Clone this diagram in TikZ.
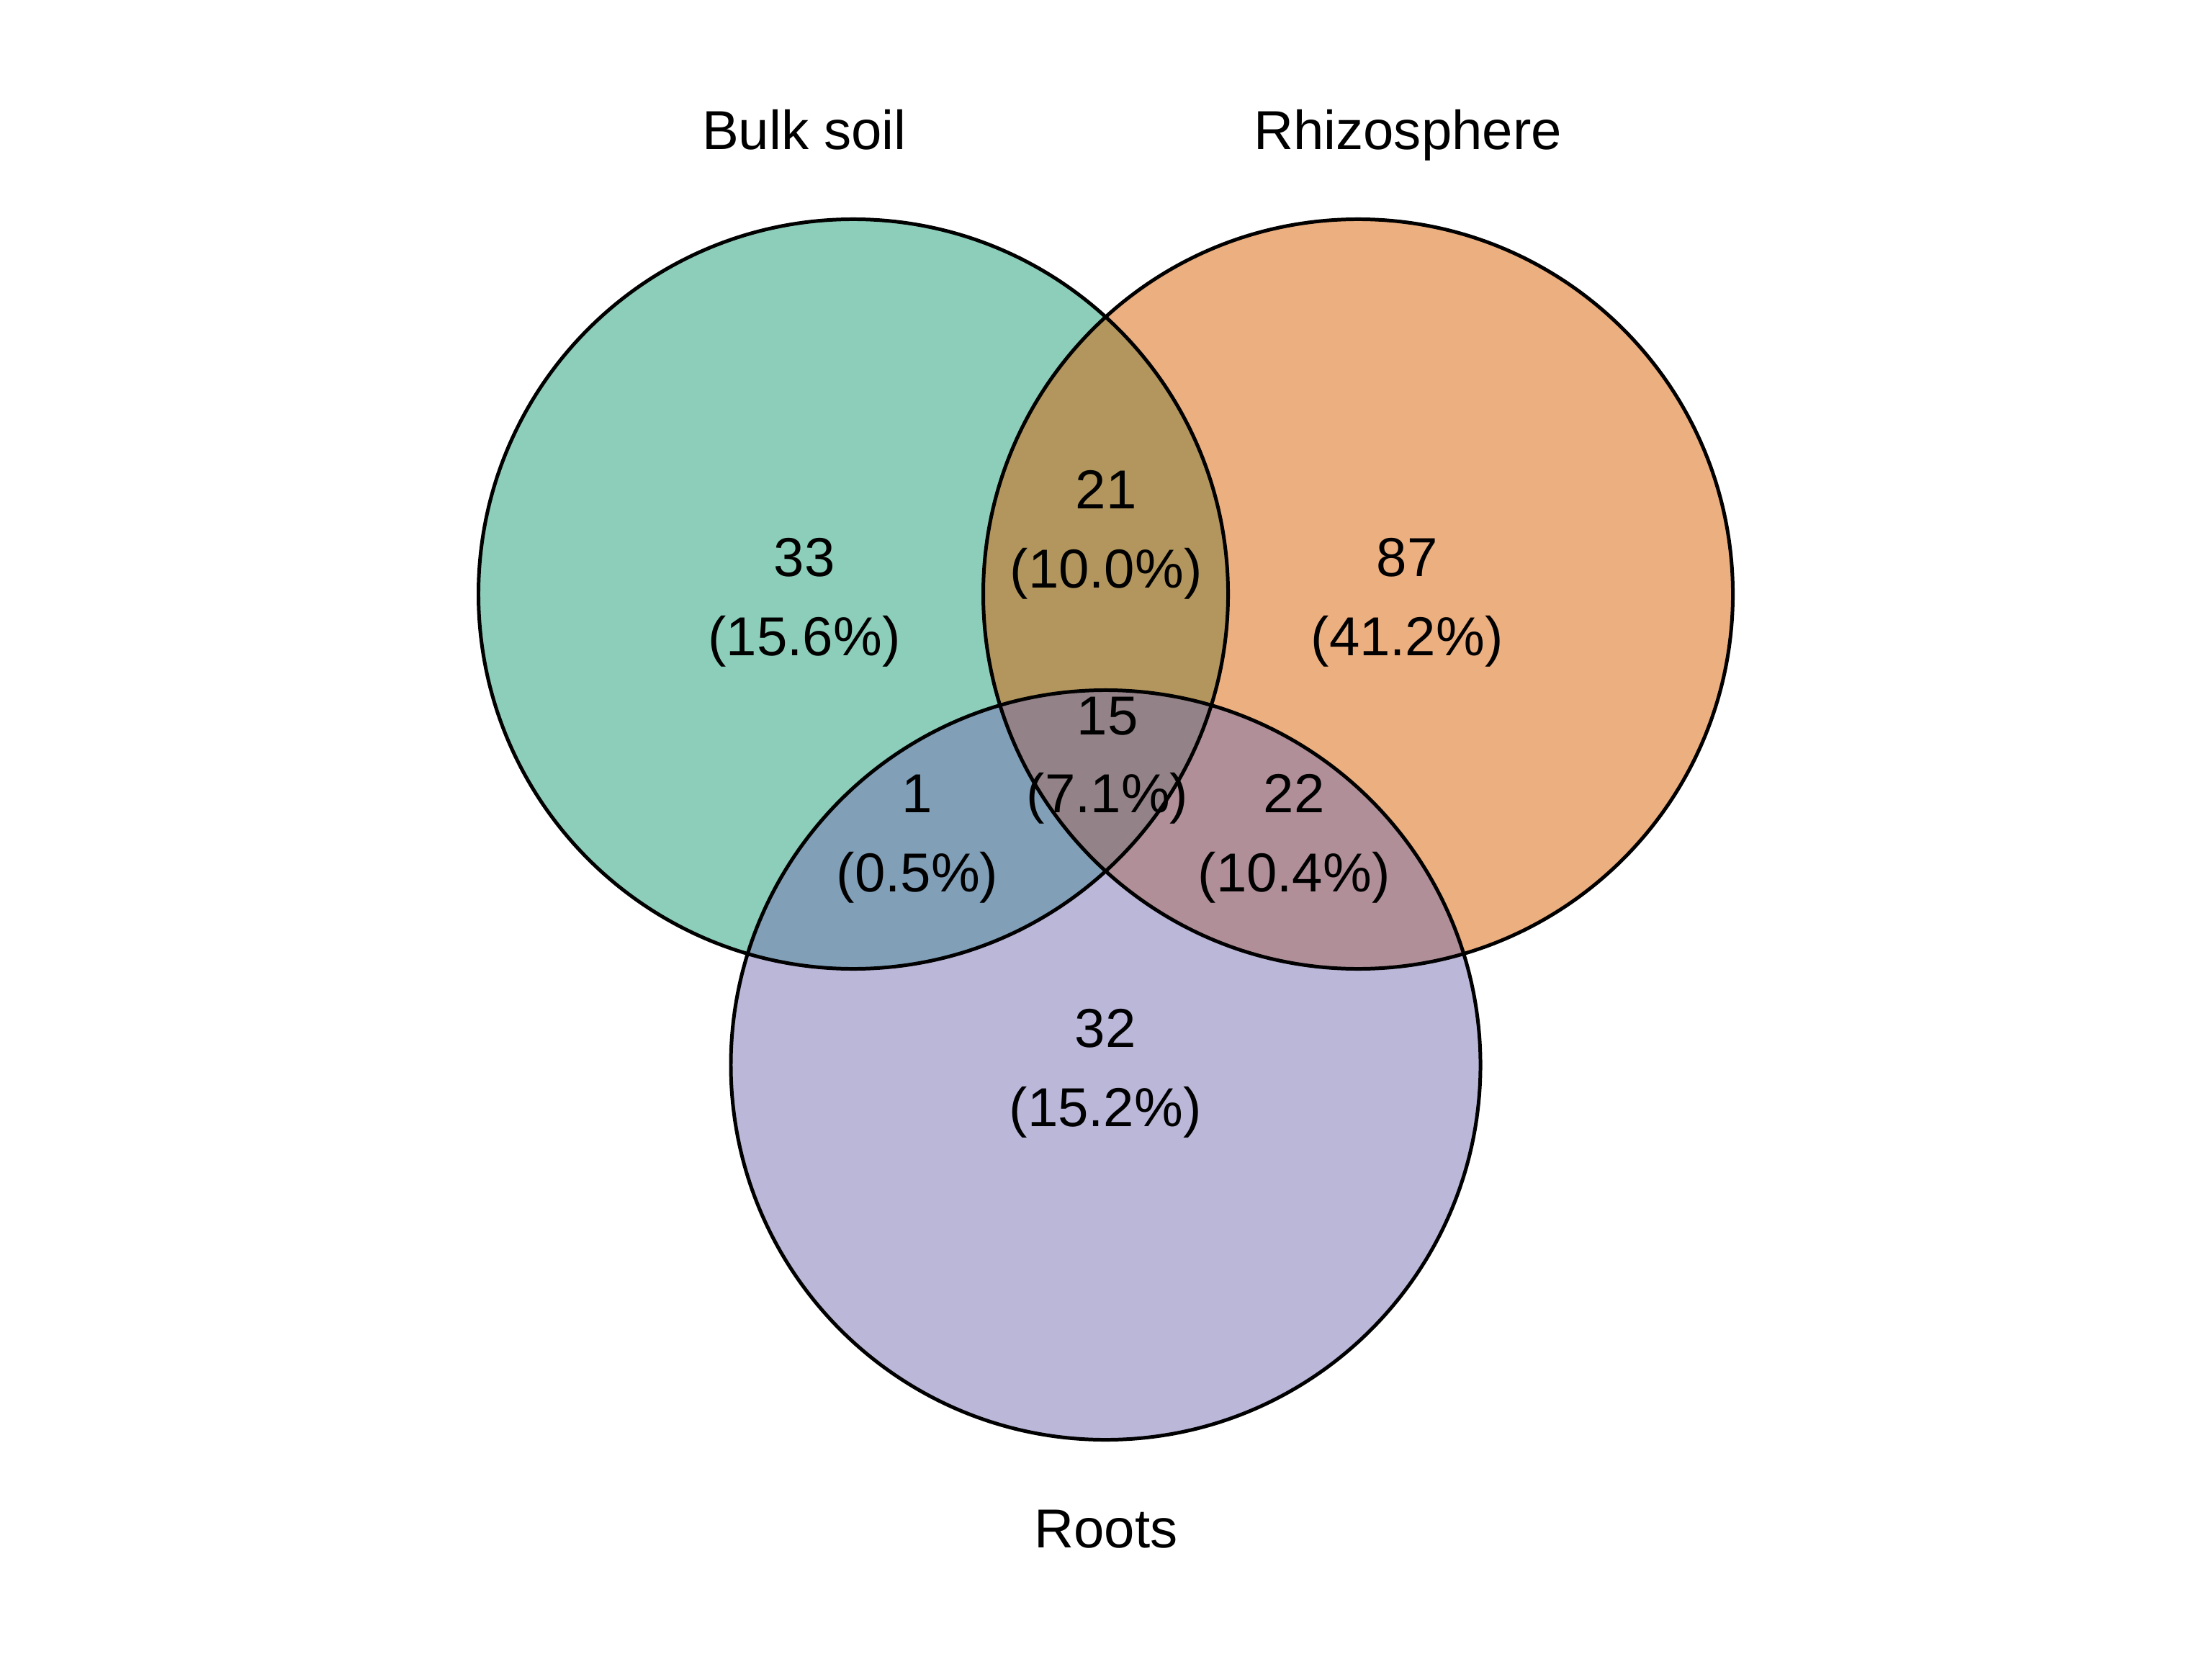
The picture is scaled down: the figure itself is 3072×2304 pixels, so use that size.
\documentclass[tikz,border=0pt]{standalone}
\usepackage{fontspec}
\setmainfont{Liberation Sans}
\definecolor{cbulk}{HTML}{1B9E77}
\definecolor{crhizo}{HTML}{D95F02}
\definecolor{croots}{HTML}{7570B3}
\begin{document}
\begin{tikzpicture}[x=0.005cm,y=-0.005cm,
  setfill/.style={fill=#1,fill opacity=0.5,draw=none},
  setline/.style={draw=black,line width=0.71pt},
  lbl/.style={anchor=base,inner sep=0pt,font=\fontsize{10.85}{12}\selectfont}]
\useasboundingbox (0,0) rectangle (3072,2304);
\coordinate (cb) at (1185,825);
\coordinate (cr) at (1886,825);
\coordinate (co) at (1535.5,1479);
\fill[setfill=cbulk] (cb) circle[radius=2.605cm];
\fill[setfill=crhizo] (cr) circle[radius=2.605cm];
\fill[setfill=croots] (co) circle[radius=2.605cm];
\draw[setline] (cb) circle[radius=2.605cm];
\draw[setline] (cr) circle[radius=2.605cm];
\draw[setline] (co) circle[radius=2.605cm];
\node[lbl] (tb) at (1117,208) {Bulk soil};
\node[lbl] (tr) at (1955,208) {Rhizosphere};
\node[lbl] (to) at (1536,2149) {Roots};
\node[lbl] (a1) at (1117,800) {33};
\node[lbl] (a2) at (1117,910) {(15.6\%)};
\node[lbl] (b1) at (1536,706) {21};
\node[lbl] (b2) at (1536,816) {(10.0\%)};
\node[lbl] (c1) at (1954,800) {87};
\node[lbl] (c2) at (1954,910) {(41.2\%)};
\node[lbl] (d1) at (1538,1020) {15};
\node[lbl] (d2) at (1538,1128) {(7.1\%)};
\node[lbl] (e1) at (1274,1128) {1};
\node[lbl] (e2) at (1274,1238) {(0.5\%)};
\node[lbl] (f1) at (1797,1128) {22};
\node[lbl] (f2) at (1797,1238) {(10.4\%)};
\node[lbl] (g1) at (1535,1454) {32};
\node[lbl] (g2) at (1535,1564) {(15.2\%)};
\end{tikzpicture}
\end{document}
